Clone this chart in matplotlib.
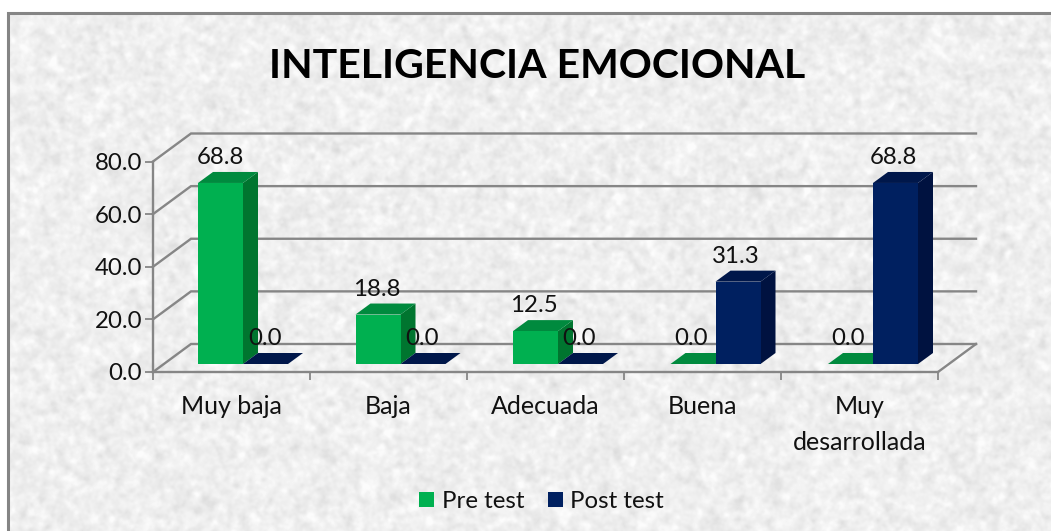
import numpy as np
import matplotlib
matplotlib.use("Agg")
import matplotlib.pyplot as plt
from matplotlib.patches import Polygon, Rectangle

categories = ["Muy baja", "Baja", "Adecuada", "Buena", "Muy\ndesarrollada"]
pre_test = [68.8, 18.8, 12.5, 0.0, 0.0]
post_test = [0.0, 0.0, 0.0, 31.3, 68.8]
y_ticks = [0, 20, 40, 60, 80]
title = "INTELIGENCIA EMOCIONAL"

W, H = 1051, 531
plt.rcParams['font.family'] = ['Lato', 'DejaVu Sans']
fig = plt.figure(figsize=(W / 100, H / 100), dpi=100, facecolor='white')

# paper-like background texture (decoration only)
rng = np.random.default_rng(7)
def blur(shape, sigma):
    n = rng.standard_normal(shape)
    fy = np.fft.fftfreq(shape[0])[:, None]
    fx = np.fft.fftfreq(shape[1])[None, :]
    g = np.exp(-2 * (np.pi * sigma) ** 2 * (fx ** 2 + fy ** 2))
    r = np.fft.ifft2(np.fft.fft2(n) * g).real
    return r / r.std()
tex = 0.935 + 0.017 * blur((H, W), 2.6) + 0.007 * blur((H, W), 1.3)
tex = np.clip(tex, 0.82, 0.985)
bg = fig.add_axes([0, 0, 1, 1], zorder=0)
bg.imshow(tex, cmap='gray', vmin=0, vmax=1, extent=(0, W, H, 0), aspect='auto', interpolation='bilinear')
bg.set_xlim(0, W); bg.set_ylim(H, 0); bg.axis('off')
bg.add_patch(Rectangle((0, 0), 8, H, fc='white', ec='none'))
bg.add_patch(Rectangle((0, 0), W, 13, fc='white', ec='none'))
bg.plot([8, 8, W], [H, 13, 13], color='#858585', lw=2.2, solid_joinstyle='miter')

# axes = front plane of the 3-D box
L, R, T, B = 153, 938, 161.5, 372
ax = fig.add_axes([L / W, 1 - B / H, (R - L) / W, (B - T) / H], zorder=1)
ax.patch.set_alpha(0)
ax.set_xlim(0, len(categories)); ax.set_ylim(0, 80)
ux = (R - L) / len(categories)      # px per category
uy = (B - T) / 80                   # px per value unit
wall_dx, wall_dy = 38 / ux, 28 / uy   # depth of the box
bar_w = 45 / ux
bar_ox, bar_oy = 11.25 / ux, 8 / uy   # bar offset into the box
bar_pitch = 157.5 / ux                # bars are spaced a touch wider than ticks
dep_x, dep_y = 15 / ux, 11 / uy       # bar depth

grid = '#868686'
for v in y_ticks:
    ax.plot([0, wall_dx, len(categories) + wall_dx], [v, v + wall_dy, v + wall_dy],
            color=grid, lw=1.7, clip_on=False, zorder=1, solid_joinstyle='miter')
ax.plot([len(categories), len(categories) + wall_dx], [0, wall_dy], color=grid, lw=1.7, clip_on=False, zorder=1)

for s in ('top', 'right'):
    ax.spines[s].set_visible(False)
for s in ('left', 'bottom'):
    ax.spines[s].set_color(grid); ax.spines[s].set_linewidth(1.7)
ax.set_yticks(y_ticks, [f"{v:.1f}" for v in y_ticks])
ax.set_xticks(np.arange(len(categories) + 1))
ax.set_xticklabels([])
ax.tick_params(axis='both', color=grid, width=1.3, length=6, labelsize=17.3, pad=2, labelcolor='#111111')

def bar3d(x0, v, front, side, top):
    base = bar_oy
    ax.add_patch(Polygon([(x0 + bar_w, base), (x0 + bar_w + dep_x, base + dep_y),
                          (x0 + bar_w + dep_x, base + v + dep_y), (x0 + bar_w, base + v)],
                         fc=side, ec='none', clip_on=False, zorder=3))
    ax.add_patch(Polygon([(x0, base + v), (x0 + dep_x, base + v + dep_y),
                          (x0 + bar_w + dep_x, base + v + dep_y), (x0 + bar_w, base + v)],
                         fc=top, ec='none', clip_on=False, zorder=3))
    ax.bar(x0, v, width=bar_w, bottom=base, align='edge', color=front, clip_on=False, zorder=3)

GREEN = ('#00B050', '#00752F', '#008A3E')
NAVY = ('#002060', '#001240', '#00174A')
for i in range(len(categories)):
    c = (i + 0.5) * bar_pitch + bar_ox
    bar3d(c - bar_w, pre_test[i], *GREEN)
    bar3d(c, post_test[i], *NAVY)

    lc = i + 0.5 + bar_ox
    ax.text(lc - bar_w / 2, pre_test[i] + bar_oy + dep_y + 1.4, f"{pre_test[i]:.1f}",
            ha='center', va='bottom', fontsize=17.3, color='#111111', zorder=5, clip_on=False)
    ax.text(lc + bar_w / 2, post_test[i] + bar_oy + dep_y + 1.4, f"{post_test[i]:.1f}",
            ha='center', va='bottom', fontsize=17.3, color='#111111', zorder=5, clip_on=False)
    ax.text(i + 0.5, -8.7, categories[i], ha='center', va='top', fontsize=18,
            color='#111111', linespacing=1.7, clip_on=False)

fig.text(537 / W, 1 - 66 / H, title, ha='center', va='center', fontsize=29.5,
         fontweight='bold', color='black', zorder=5)

# legend
bg.add_patch(Rectangle((419, 492), 15, 15, fc='#00B050', ec='none'))
bg.add_patch(Rectangle((548, 492), 15, 15, fc='#002060', ec='none'))
bg.text(442, 501, "Pre test", va='center', ha='left', fontsize=17.3, color='#111111')
bg.text(570, 501, "Post test", va='center', ha='left', fontsize=17.3, color='#111111')

fig.savefig("out.png", dpi=100, facecolor='white')
